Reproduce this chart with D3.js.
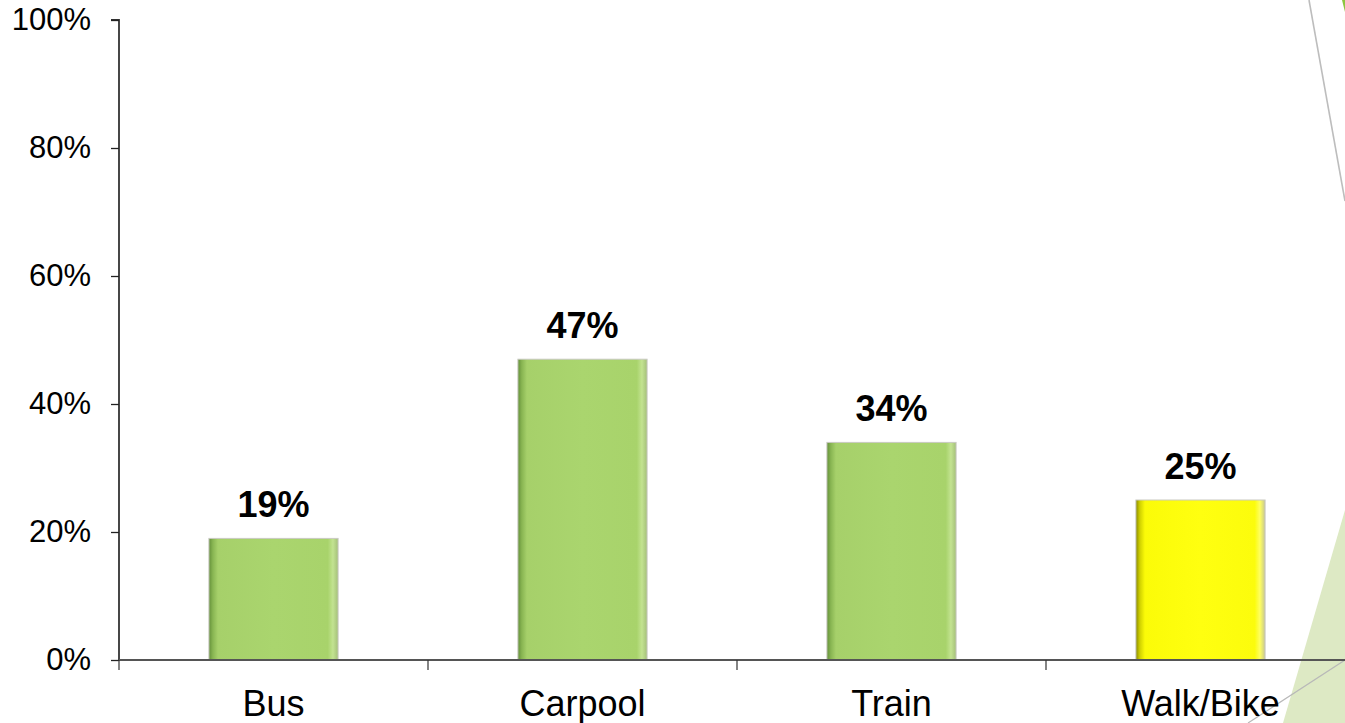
<!DOCTYPE html>
<html>
<head>
<meta charset="utf-8">
<script src="https://cdn.jsdelivr.net/npm/d3@7"></script>
<style>
  html, body { margin: 0; padding: 0; background: #fff; overflow: hidden; }
  svg { display: block; }
</style>
</head>
<body>
<svg id="chart" width="1345" height="723"></svg>
<script>
// Commute mode shares
const categories = ["Bus", "Carpool", "Train", "Walk/Bike"];
const values = [19, 47, 34, 25];
const barColors = ["green", "green", "green", "yellow"];
const yTicks = [0, 20, 40, 60, 80, 100];
const yTickLabels = ["0%", "20%", "40%", "60%", "80%", "100%"];

const W = 1345, H = 723;
const svg = d3.select("#chart");

// Slide decoration on the right edge (drawn behind the chart)
const deco = svg.append("g");
deco.append("polygon")
  .attr("points", "1345,510 1283,723 1345,723")
  .attr("fill", "#dde9c4");
deco.append("line")
  .attr("x1", 1345).attr("y1", 660).attr("x2", 1248).attr("y2", 723)
  .attr("stroke", "#b8b8b8").attr("stroke-width", 1.2);
deco.append("line")
  .attr("x1", 1309).attr("y1", 0).attr("x2", 1345).attr("y2", 201)
  .attr("stroke", "#bdbdbd").attr("stroke-width", 1.6);
deco.append("polygon")
  .attr("points", "1342,0 1345,0 1345,12")
  .attr("fill", "#8cc63f");

// Scales
const x0 = 119, cat = 309;
const x = d3.scaleBand().domain(categories).range([x0, x0 + cat * categories.length]).padding(0);
const y = d3.scaleLinear().domain([0, 100]).range([660, 20]);
const barW = x.bandwidth() * 0.418;

// Bar gradients: shaded left edge, light right rim
const defs = svg.append("defs");
const grads = {
  green: [["0%", "#64903a"], ["3%", "#88b552"], ["7%", "#a6d06a"], ["50%", "#aad56e"], ["92%", "#a8d36b"], ["96%", "#c3e391"], ["100%", "#a4c078"]],
  yellow: [["0%", "#8a8a00"], ["3%", "#d0d000"], ["7%", "#fbfb08"], ["50%", "#ffff10"], ["92%", "#fcfc0c"], ["96%", "#ffff60"], ["100%", "#c8c890"]]
};
Object.entries(grads).forEach(([k, stops]) => {
  const g = defs.append("linearGradient").attr("id", "grad-" + k)
    .attr("x1", "0%").attr("x2", "100%").attr("y1", "0%").attr("y2", "0%");
  stops.forEach(([o, c]) => g.append("stop").attr("offset", o).attr("stop-color", c));
});

// Bars
const bars = svg.append("g");
bars.selectAll("rect")
  .data(categories)
  .join("rect")
  .attr("x", (d) => x(d) + (x.bandwidth() - barW) / 2)
  .attr("y", (d, i) => y(values[i]))
  .attr("width", barW)
  .attr("height", (d, i) => y(0) - y(values[i]))
  .attr("fill", (d, i) => "url(#grad-" + barColors[i] + ")")
  .attr("stroke", "#c9c9c2")
  .attr("stroke-width", 1);

// Value labels
svg.append("g").selectAll("text")
  .data(categories)
  .join("text")
  .attr("x", (d) => x(d) + x.bandwidth() / 2)
  .attr("y", (d, i) => y(values[i]) - 21)
  .attr("text-anchor", "middle")
  .attr("font-family", "Liberation Sans, Arial, sans-serif")
  .attr("font-weight", "bold")
  .attr("font-size", 36)
  .attr("fill", "#000")
  .text((d, i) => values[i] + "%");

// Y axis
const yAxis = d3.axisLeft(y)
  .tickValues(yTicks)
  .tickFormat((d, i) => yTickLabels[i])
  .tickSize(8)
  .tickPadding(20);
const gy = svg.append("g").attr("transform", `translate(${x0},0)`).call(yAxis);
gy.select(".domain").attr("stroke", "#333").attr("stroke-width", 1.8).attr("d", `M-8,20H0V660`);
gy.selectAll(".tick line").attr("stroke", "#222").attr("stroke-width", 1.3);
gy.selectAll(".tick text")
  .attr("font-family", "Liberation Sans, Arial, sans-serif")
  .attr("font-size", 31)
  .attr("fill", "#000");

// X axis: category labels plus boundary ticks
const xAxis = d3.axisBottom(x).tickSize(0).tickPadding(30);
const gx = svg.append("g").attr("transform", `translate(0,${y(0)})`).call(xAxis);
gx.select(".domain").attr("d", `M${x0},0H${W}`).attr("stroke", "#555").attr("stroke-width", 2.2);
gx.selectAll(".tick text")
  .attr("font-family", "Liberation Sans, Arial, sans-serif")
  .attr("font-size", 36)
  .attr("fill", "#000");
gx.append("g").selectAll("line")
  .data(categories)
  .join("line")
  .attr("x1", (d) => x(d)).attr("x2", (d) => x(d))
  .attr("y1", 0).attr("y2", 10)
  .attr("stroke", "#333").attr("stroke-width", 1.2);
</script>
</body>
</html>
